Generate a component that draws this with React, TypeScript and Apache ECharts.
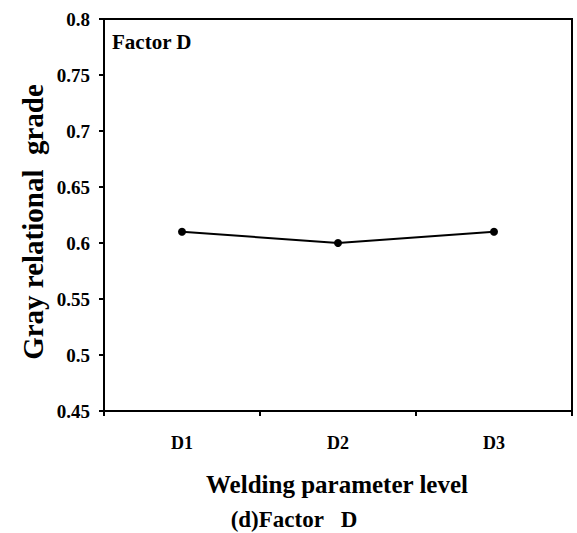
import React, { useEffect, useRef } from "react";
import * as echarts from "echarts";

const categories = ["D1", "D2", "D3"];
const grades = [0.61, 0.6, 0.61];
const yMin = 0.45;
const yMax = 0.8;
const yStep = 0.05;

const FONT = "Liberation Serif";

export default function App() {
  const ref = useRef<HTMLDivElement>(null);
  useEffect(() => {
    document.body.style.margin = "0";
    const chart = echarts.init(ref.current!, null, { renderer: "svg" });
    chart.setOption({
      animation: false,
      backgroundColor: "#ffffff",
      textStyle: { fontFamily: FONT, fontWeight: "bold", color: "#000" },
      grid: {
        left: 104,
        top: 19,
        width: 468,
        height: 392,
        show: true,
        borderColor: "#000",
        borderWidth: 2,
        backgroundColor: "transparent",
      },
      xAxis: {
        type: "category",
        data: categories,
        boundaryGap: true,
        axisLine: { lineStyle: { color: "#000", width: 2 } },
        axisTick: { show: true, inside: false, length: 5, lineStyle: { color: "#000", width: 2 } },
        axisLabel: { margin: 23, fontFamily: FONT, fontWeight: "bold", fontSize: 18, color: "#000" },
        splitLine: { show: false },
      },
      yAxis: {
        type: "value",
        min: yMin,
        max: yMax,
        interval: yStep,
        axisLine: { show: true, lineStyle: { color: "#000", width: 2 } },
        axisTick: { show: true, inside: false, length: 5, lineStyle: { color: "#000", width: 2 } },
        axisLabel: {
          margin: 14,
          fontFamily: FONT,
          fontWeight: "bold",
          fontSize: 19,
          color: "#000",
          formatter: (v: number) => String(parseFloat(v.toFixed(2))),
        },
        splitLine: { show: false },
      },
      graphic: [
        {
          type: "text",
          x: 112,
          y: 42,
          style: {
            text: "Factor D",
            fontFamily: FONT,
            fontWeight: "bold",
            fontSize: 21,
            fill: "#000",
            align: "left",
            verticalAlign: "middle",
          },
        },
        {
          type: "text",
          x: 33,
          y: 222,
          rotation: Math.PI / 2,
          style: {
            text: "Gray relational  grade",
            fontFamily: FONT,
            fontWeight: "bold",
            fontSize: 29,
            fill: "#000",
            align: "center",
            verticalAlign: "middle",
          },
        },
        {
          type: "text",
          x: 337,
          y: 484,
          style: {
            text: "Welding parameter level",
            fontFamily: FONT,
            fontWeight: "bold",
            fontSize: 25,
            fill: "#000",
            align: "center",
            verticalAlign: "middle",
          },
        },
        {
          type: "text",
          x: 294,
          y: 519,
          style: {
            text: "(d)Factor   D",
            fontFamily: FONT,
            fontWeight: "bold",
            fontSize: 23,
            fill: "#000",
            align: "center",
            verticalAlign: "middle",
          },
        },
      ],
      series: [
        {
          type: "line",
          data: grades,
          symbol: "circle",
          symbolSize: 8,
          itemStyle: { color: "#000" },
          lineStyle: { color: "#000", width: 2 },
        },
      ],
    });
    return () => chart.dispose();
  }, []);
  return <div ref={ref} style={{ width: 577, height: 533 }} />;
}
